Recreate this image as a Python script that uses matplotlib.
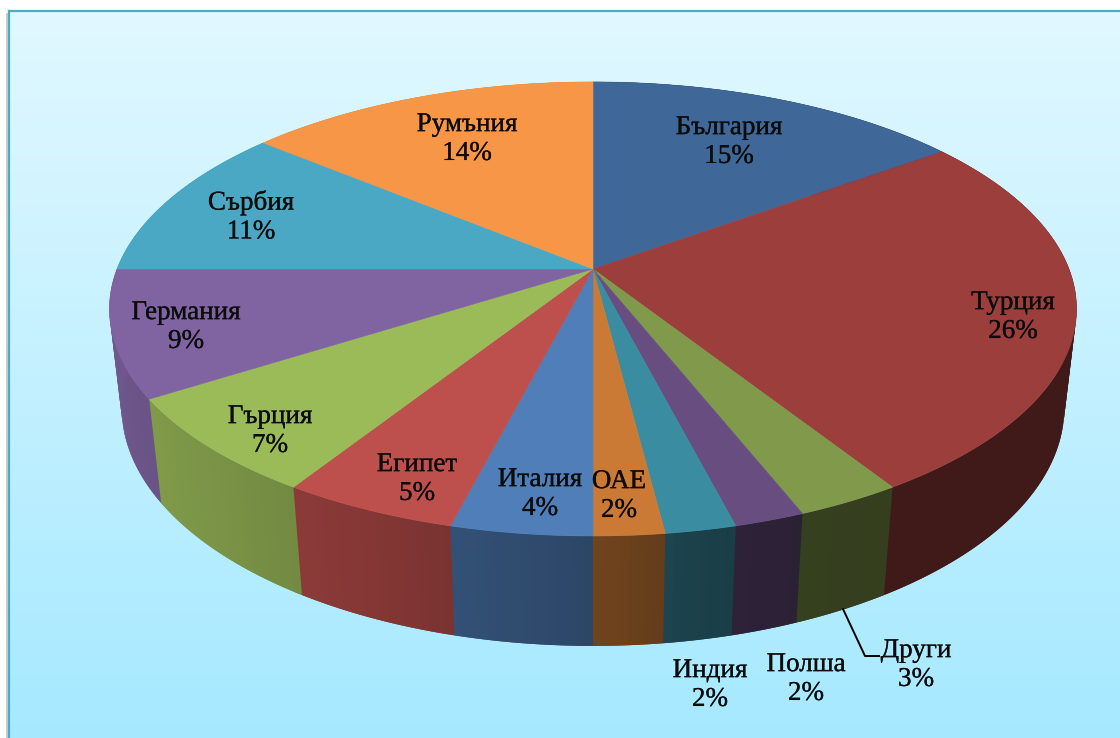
import matplotlib
matplotlib.use('Agg')
import matplotlib.pyplot as plt
import matplotlib.patheffects as pe
import numpy as np
from matplotlib.colors import to_rgb, LinearSegmentedColormap

countries = ['България', 'Турция', 'Други', 'Полша', 'Индия', 'ОАЕ',
             'Италия', 'Египет', 'Гърция', 'Германия', 'Сърбия', 'Румъния']
shares = [15, 26, 3, 2, 2, 2, 4, 5, 7, 9, 11, 14]

colors = ['#3f6797', '#9b3e3c', '#80994a', '#684e80', '#3a8ca0', '#ca7a35',
          '#4f7eb8', '#bd4f4c', '#9bbb59', '#8064a2', '#4aa8c5', '#f69646']

# label centres in pixels
label_pos = [(729, 142), (1013, 317), (916, 665), (806, 679), (710, 685), (619, 496),
             (540, 494), (417, 479), (270, 431), (186, 327), (251, 217), (467, 139)]

# wall darkening by cumulative percent
shade_pct = [0, 41, 45, 47, 49, 52, 56.5, 62.5, 70.5, 100]
shade_val = [0.41, 0.41, 0.42, 0.46, 0.53, 0.60, 0.70, 0.79, 0.87, 0.87]

# perspective of the pie
cx, cy = 593, 269
W, A = 476, 220
k = 0.176
depth_w, depth_y = 0.025, 100


def project(pct, lower=False):
    t = np.radians(np.asarray(pct) * 3.6)
    u, v = np.sin(t), np.cos(t)
    w = 1 + k * v + (depth_w if lower else 0)
    y = -A * v + (depth_y if lower else 0)
    return cx + W * u / w, cy + y / w


fig = plt.figure(figsize=(11.2, 7.38), dpi=100)
ax = fig.add_axes([0, 0, 1, 1])
ax.set_xlim(0, 1120)
ax.set_ylim(738, 0)
ax.axis('off')

# background
ax.add_patch(plt.Rectangle((0, 0), 1120, 738, color='white', zorder=0))
ax.add_patch(plt.Rectangle((6, 13), 10, 730, color='#c9cfd2', lw=0, zorder=0.5))
bg = LinearSegmentedColormap.from_list('bg', ['#e1f8ff', '#a6e9ff'])
ax.imshow(np.linspace(0, 1, 256).reshape(-1, 1), cmap=bg, extent=[9, 1120, 738, 11],
          aspect='auto', zorder=1)
ax.set_xlim(0, 1120)
ax.set_ylim(738, 0)
ax.plot([9, 9], [738, 11], color='#4bacc6', lw=1.6, zorder=2)
ax.plot([9, 1120], [11, 11], color='#4bacc6', lw=1.6, zorder=2)

edges = np.concatenate([[0], np.cumsum(shares)])

# walls, every strip runs on under the next one so no seams show
for i in range(len(shares)):
    steps = np.arange(edges[i], edges[i + 1], 0.25)
    base = np.array(to_rgb(colors[i]))
    for a in steps:
        b = a + 0.5
        xt, yt = project([a, b])
        xb, yb = project([b, a], lower=True)
        c = base * np.interp(a + 0.125, shade_pct, shade_val)
        ax.fill(np.r_[xt, xb], np.r_[yt, yb], color=c, lw=0, zorder=3)

# top face
for i in range(len(shares)):
    p = np.linspace(edges[i], edges[i + 1], 60)
    x, y = project(p)
    ax.fill(np.r_[cx, x], np.r_[cy, y], color=colors[i], lw=0.4, zorder=4)

# labels
for name, val, (lx, ly) in zip(countries, shares, label_pos):
    ax.text(lx, ly, f'{name}\n{val}%', ha='center', va='center', fontsize=19.5,
            family='Liberation Serif', color='#0c0c0c', linespacing=1.2, zorder=6,
            path_effects=[pe.withStroke(linewidth=0.2, foreground='#0c0c0c')])

# leader line for Други
ax.plot([843, 865, 879], [609, 656, 656], color='black', lw=1.4, zorder=5)

fig.savefig('out.png', dpi=100)
